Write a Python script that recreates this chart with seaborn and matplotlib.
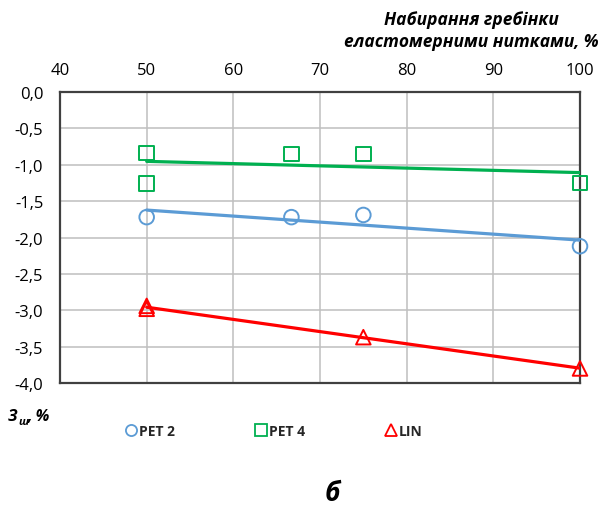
import numpy as np
import pandas as pd
import matplotlib
matplotlib.use("Agg")
import matplotlib.pyplot as plt
from matplotlib.lines import Line2D
import seaborn as sns

# Дані
pet2_x = [50, 66.7, 75, 100]
pet2_y = [-1.72, -1.72, -1.69, -2.12]

pet4_x = [50, 50, 66.7, 75, 100]
pet4_y = [-0.84, -1.26, -0.85, -0.85, -1.25]

lin_x = [50, 50, 75, 100]
lin_y = [-2.94, -2.98, -3.37, -3.80]

series_names = ["PET 2", "PET 4", "LIN"]
series_colors = ["#5B9BD5", "#00B050", "#FF0000"]
series_markers = ["o", "s", "^"]

x_ticks = [40, 50, 60, 70, 80, 90, 100]
y_ticks = [0.0, -0.5, -1.0, -1.5, -2.0, -2.5, -3.0, -3.5, -4.0]

sns.set_theme(style="whitegrid")
plt.rcParams["font.family"] = ["Open Sans", "DejaVu Sans"]

fig = plt.figure(figsize=(6.05, 5.06), dpi=100)
ax = fig.add_axes([0.0992, 0.2411, 0.8595, 0.5751])

datasets = [(pet2_x, pet2_y), (pet4_x, pet4_y), (lin_x, lin_y)]
for (xs, ys), name, col, mk in zip(datasets, series_names, series_colors, series_markers):
    df = pd.DataFrame({"x": xs, "y": ys})
    # лінія тренду (лінійна апроксимація)
    sns.regplot(data=df, x="x", y="y", scatter=False, ci=None, truncate=True,
                color=col, line_kws={"linewidth": 2.3, "zorder": 3}, ax=ax)
    sns.scatterplot(data=df, x="x", y="y", marker=mk, s=110, color=col,
                    facecolor="none", edgecolor=col, linewidth=1.4,
                    zorder=4, clip_on=False, ax=ax)

ax.set_xlim(40, 100)
ax.set_ylim(-4.0, 0.0)
ax.set_xticks(x_ticks)
ax.set_yticks(y_ticks)
ax.xaxis.tick_top()
ax.set_xticklabels([str(t) for t in x_ticks])
ax.set_yticklabels([f"{t:.1f}".replace(".", ",") for t in y_ticks])
ax.tick_params(axis="both", length=0, labelsize=12, colors="black")
ax.tick_params(axis="x", pad=10)
ax.tick_params(axis="y", pad=12)
ax.set_xlabel("")
ax.set_ylabel("")
ax.grid(True, color="#BFBFBF", linewidth=1.1)
ax.set_facecolor("white")
for sp in ax.spines.values():
    sp.set_color("#404040")
    sp.set_linewidth(1.6)
    sp.set_visible(True)

# Назва осі x
fig.text(0.989, 0.978, "Набирання гребінки\nеластомерними нитками, %",
         ha="right", va="top", multialignment="center", fontsize=12.5,
         fontweight="bold", fontstyle="italic", linespacing=1.3, color="black")

# Назва осі y
fig.text(0.012, 0.176, "З", ha="left", va="center", fontsize=11.5,
         fontweight="bold", fontstyle="italic", color="black")
fig.text(0.031, 0.166, "ш", ha="left", va="center", fontsize=8,
         fontweight="bold", fontstyle="italic", color="black")
fig.text(0.046, 0.176, ", %", ha="left", va="center", fontsize=11.5,
         fontweight="bold", fontstyle="italic", color="black")

# Легенда
handles = [Line2D([0], [0], linestyle="none", marker=mk, markersize=8,
                  markerfacecolor="none", markeredgecolor=col, markeredgewidth=1.3)
           for col, mk in zip(series_colors, series_markers)]
leg = fig.legend(handles, series_names, loc="center", bbox_to_anchor=(0.452, 0.146),
                 ncol=3, frameon=False, handletextpad=0.05, columnspacing=5.7,
                 handlelength=1.0, prop={"size": 10, "weight": "bold"})

fig.text(0.55, 0.01, "б", ha="center", va="baseline", fontsize=19,
         fontweight="bold", fontstyle="italic", color="black")

fig.savefig("out.png", dpi=100)
